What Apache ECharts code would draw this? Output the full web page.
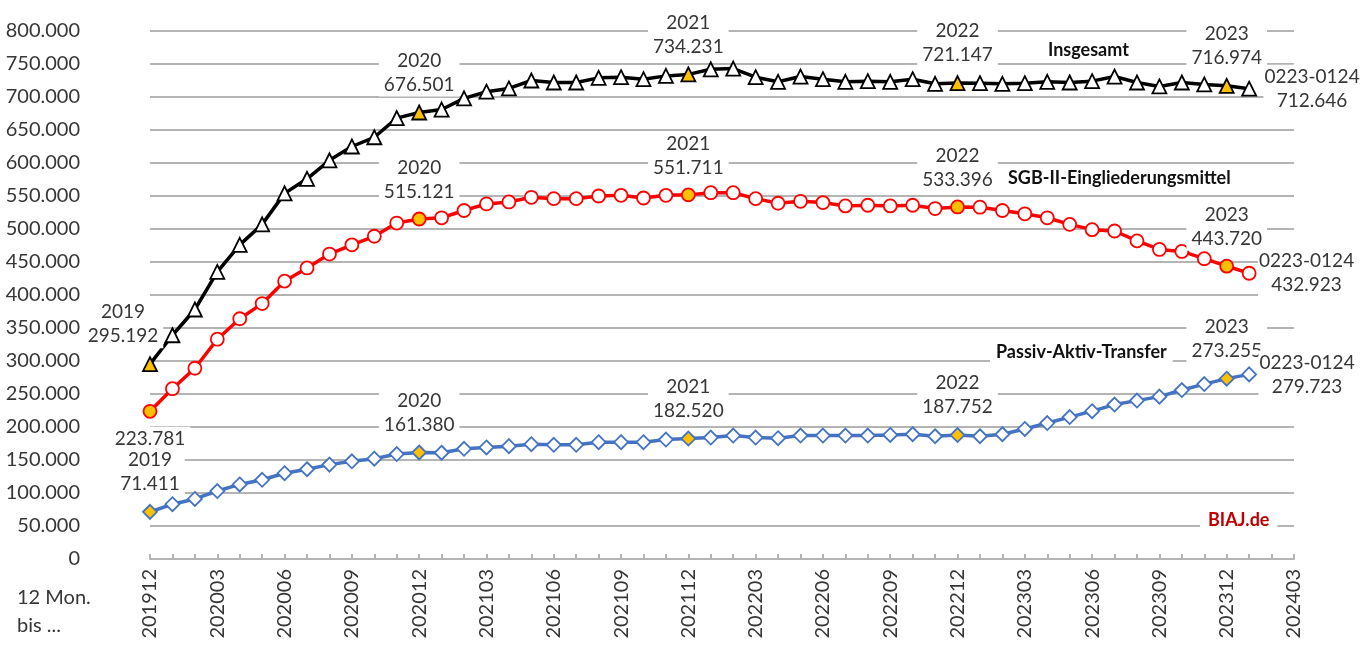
<!DOCTYPE html>
<html>
<head>
<meta charset="utf-8">
<script src="https://cdn.jsdelivr.net/npm/echarts@6/dist/echarts.min.js"></script>
<style>
html,body{margin:0;padding:0;background:#fff;}
#chart{width:1371px;height:647px;}
</style>
</head>
<body>
<div id="chart"></div>
<script>
// Categories: 12 months up to ... (201912 .. 202403)
var categories = [];
(function(){
  var y = 2019, m = 12;
  for (var i = 0; i < 52; i++) {
    categories.push(String(y) + (m < 10 ? '0' + m : String(m)));
    m++; if (m > 12) { m = 1; y++; }
  }
})();

var insgesamt = [295192,339000,378000,435000,476000,507000,554000,576000,604000,625000,639000,668000,676501,
  681000,698000,708000,713000,725000,722000,722000,729000,730000,727000,732000,734231,
  742000,743000,730000,723000,731000,727000,723000,724000,723000,727000,720000,721147,
  721000,720000,721000,723000,722000,724000,731000,722000,716000,722000,719000,716974,712646];

var sgb2 = [223781,258000,289000,333000,364000,387000,421000,441000,462000,476000,489000,509000,515121,
  517000,528000,538000,541000,548000,546000,546000,550000,551000,547000,551000,551711,
  555000,555000,546000,539000,542000,540000,535000,536000,535000,536000,531000,533396,
  533000,528000,523000,517000,507000,499000,497000,482000,469000,466000,455000,443720,432923];

var pat = [71411,83000,91000,103000,113000,120000,130000,136000,143000,148000,152000,159000,161380,
  161000,167000,169000,171000,174000,173000,173000,177000,177000,177000,181000,182520,
  184000,187000,184000,183000,187000,187000,187000,187000,188000,189000,186000,187752,
  186000,189000,197000,206000,215000,224000,234000,240000,246000,256000,265000,273255,279723];

var labelIdx = [0, 12, 24, 36, 48, 49];
var labelYears = ['2019', '2020', '2021', '2022', '2023', '0223-0124'];
var highlightIdx = [0, 12, 24, 36, 48];

function fmt(v) {
  var s = String(Math.round(v));
  var out = '';
  while (s.length > 3) { out = '.' + s.slice(-3) + out; s = s.slice(0, -3); }
  return s + out;
}

var FONT = 'Lato';
var TXT = '#363636';
var ORANGE = '#ffc000';

function baseLabel() {
  return {
    show: true, fontFamily: FONT, fontSize: 19, color: TXT, lineHeight: 24,
    backgroundColor: '#fff', padding: [0, 5, 0, 5], align: 'center'
  };
}

function buildData(values, color, opts) {
  return values.map(function (v, i) {
    var item = { value: v };
    if (highlightIdx.indexOf(i) >= 0) {
      item.itemStyle = { color: ORANGE, borderColor: color };
    }
    var li = labelIdx.indexOf(i);
    if (li >= 0) {
      var lab = baseLabel();
      var yearTxt = labelYears[li];
      if (li === 5) {
        lab.position = 'right';
        lab.distance = 5;
        lab.offset = [opts.rightOffset, 0];
        lab.verticalAlign = 'middle';
        lab.padding = [0, 1, 0, 1];
        lab.formatter = yearTxt + '\n' + fmt(v);
      } else if (li === 0 && opts.firstMode === 'valueBelow') {
        lab.position = 'bottom';
        lab.distance = 8;
        lab.formatter = fmt(v);
      } else {
        lab.position = 'top';
        lab.distance = 8;
        lab.formatter = yearTxt + '\n' + fmt(v);
        if (li === 0 && opts.firstOffset) lab.offset = opts.firstOffset;
      }
      item.label = lab;
    }
    return item;
  });
}

var chart = echarts.init(document.getElementById('chart'), null, { renderer: 'canvas' });

function lineSeries(name, values, color, symbol, size, width, opts) {
  return {
    name: name, type: 'line', data: buildData(values, color, opts),
    symbol: symbol, symbolSize: size, showAllSymbol: true,
    lineStyle: { color: color, width: width },
    itemStyle: { color: '#fff', borderColor: color, borderWidth: 1.8 },
    label: { show: false },
    emphasis: { disabled: true },
    animation: false, z: 3
  };
}

var option = {
  animation: false,
  backgroundColor: '#fff',
  grid: { left: 150, right: 77, top: 31, bottom: 88, containLabel: false },
  xAxis: {
    type: 'category', data: categories, boundaryGap: false,
    axisLine: { show: true, lineStyle: { color: '#b4b4b4', width: 2 } },
    axisTick: { show: true, inside: true, length: 5, interval: 0, lineStyle: { color: '#b4b4b4', width: 2 } },
    axisLabel: { interval: 2, rotate: 90, fontFamily: FONT, fontSize: 20, color: TXT, margin: 10 },
    splitLine: { show: false }
  },
  yAxis: {
    type: 'value', min: 0, max: 800000, interval: 50000,
    axisLine: { show: false }, axisTick: { show: false },
    axisLabel: { fontFamily: FONT, fontSize: 20, color: TXT, margin: 70, formatter: function (v) { return fmt(v); } },
    splitLine: { lineStyle: { color: '#b4b4b4', width: 2 } }
  },
  series: [
    lineSeries('Insgesamt', insgesamt, '#000000', 'triangle', 14, 3.5, { rightOffset: 50, firstOffset: [-27, 0] }),
    lineSeries('SGB-II-Eingliederungsmittel', sgb2, '#ff0000', 'circle', 13, 3.5, { rightOffset: 45, firstMode: 'valueBelow' }),
    lineSeries('Passiv-Aktiv-Transfer', pat, '#4472c4', 'diamond', 14, 3.5, { rightOffset: 45 })
  ],
  graphic: [
    { type: 'text', left: 1042, top: 39, z: 10, style: { text: 'Insgesamt', font: 'bold 18px Lato', fill: '#111', backgroundColor: '#fff', padding: [2, 6] } },
    { type: 'text', left: 1002, top: 167, z: 10, style: { text: 'SGB-II-Eingliederungsmittel', font: 'bold 18px Lato', fill: '#111', backgroundColor: '#fff', padding: [2, 6] } },
    { type: 'text', left: 990, top: 341, z: 10, style: { text: 'Passiv-Aktiv-Transfer', font: 'bold 18px Lato', fill: '#111', backgroundColor: '#fff', padding: [2, 6] } },
    { type: 'text', left: 1200, top: 509, z: 10, style: { text: 'BIAJ.de', font: 'bold 18px Lato', fill: '#c00000', backgroundColor: '#fff', padding: [2, 8] } },
    { type: 'text', left: 17, top: 584, z: 10, style: { text: '12 Mon.\nbis ...', font: '20px Lato', fill: TXT, lineHeight: 28 } }
  ]
};
chart.setOption(option);
</script>
</body>
</html>
